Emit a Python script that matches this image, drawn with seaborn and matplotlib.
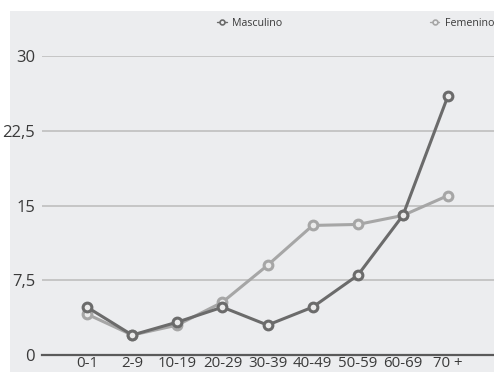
import matplotlib
matplotlib.use("Agg")
import matplotlib.pyplot as plt
import matplotlib.patches as mpatches
from matplotlib.lines import Line2D
import seaborn as sns
import pandas as pd

age_groups = ["0-1", "2-9", "10-19", "20-29", "30-39", "40-49", "50-59", "60-69", "70 +"]
masculino = [4.8, 2.0, 3.3, 4.8, 3.0, 4.8, 8.0, 14.0, 26.0]
femenino = [4.1, 2.0, 3.0, 5.3, 9.0, 13.0, 13.1, 14.0, 16.0]
y_ticks = [0, 7.5, 15, 22.5, 30]
y_tick_labels = ["0", "7,5", "15", "22,5", "30"]

bg = "#ecedef"
colors = {"Masculino": "#6b6b6b", "Femenino": "#a6a6a6"}

df = pd.concat([
    pd.DataFrame({"edad": age_groups, "valor": femenino, "sexo": "Femenino"}),
    pd.DataFrame({"edad": age_groups, "valor": masculino, "sexo": "Masculino"}),
])

sns.set_style("white")
plt.rcParams["font.family"] = ["Open Sans", "DejaVu Sans"]

W, H = 494, 372
fig = plt.figure(figsize=(W / 100, H / 100), dpi=100, facecolor="white")
# grey panel behind the chart
fig.patches.append(mpatches.Rectangle((10 / W, 0), 1 - 10 / W, 1 - 11 / H,
                                      transform=fig.transFigure, facecolor=bg,
                                      edgecolor="none", zorder=-10))

ax = fig.add_axes([42 / W, (H - 355) / H, (W - 42) / W, 299 / H])
ax.set_facecolor(bg)
ax.set_zorder(1)

for sexo in ["Femenino", "Masculino"]:
    sub = df[df["sexo"] == sexo]
    sns.lineplot(data=sub, x="edad", y="valor", ax=ax, sort=False,
                 color=colors[sexo], linewidth=2.2, marker="o", markersize=6.3,
                 markerfacecolor="#ebebeb", markeredgecolor=colors[sexo],
                 markeredgewidth=2.2, legend=False, clip_on=False, zorder=3)

ax.set_xlim(-1.0, 9.02)
ax.set_ylim(0, 30)
ax.set_yticks(y_ticks)
ax.set_yticklabels(y_tick_labels)
ax.set_xlabel("")
ax.set_ylabel("")
ax.grid(axis="y", color="#c2c2c2", linewidth=1.3)
ax.set_axisbelow(True)
for side in ["top", "right", "left"]:
    ax.spines[side].set_visible(False)
ax.spines["bottom"].set_color("#5a5a5a")
ax.spines["bottom"].set_linewidth(1.6)
ax.tick_params(axis="both", length=0, labelcolor="#3a3a3a")
ax.tick_params(axis="y", pad=5, labelsize=12)
ax.tick_params(axis="x", pad=1, labelsize=10.8)

handles = [Line2D([0], [0], color=colors[s], linewidth=1, marker="o", markersize=3.5,
                  markerfacecolor=bg, markeredgecolor=colors[s], markeredgewidth=1.2)
           for s in ["Masculino", "Femenino"]]
fig.legend(handles, ["Masculino", "Femenino"], loc="upper left",
           bbox_to_anchor=(217 / W, 1 - 18 / H), ncol=2, frameon=False,
           fontsize=7.7, handlelength=0.9, handletextpad=0.5, columnspacing=13.8,
           borderpad=0, borderaxespad=0, labelcolor="#3a3a3a")

fig.savefig("out.png", dpi=100, facecolor="white")
